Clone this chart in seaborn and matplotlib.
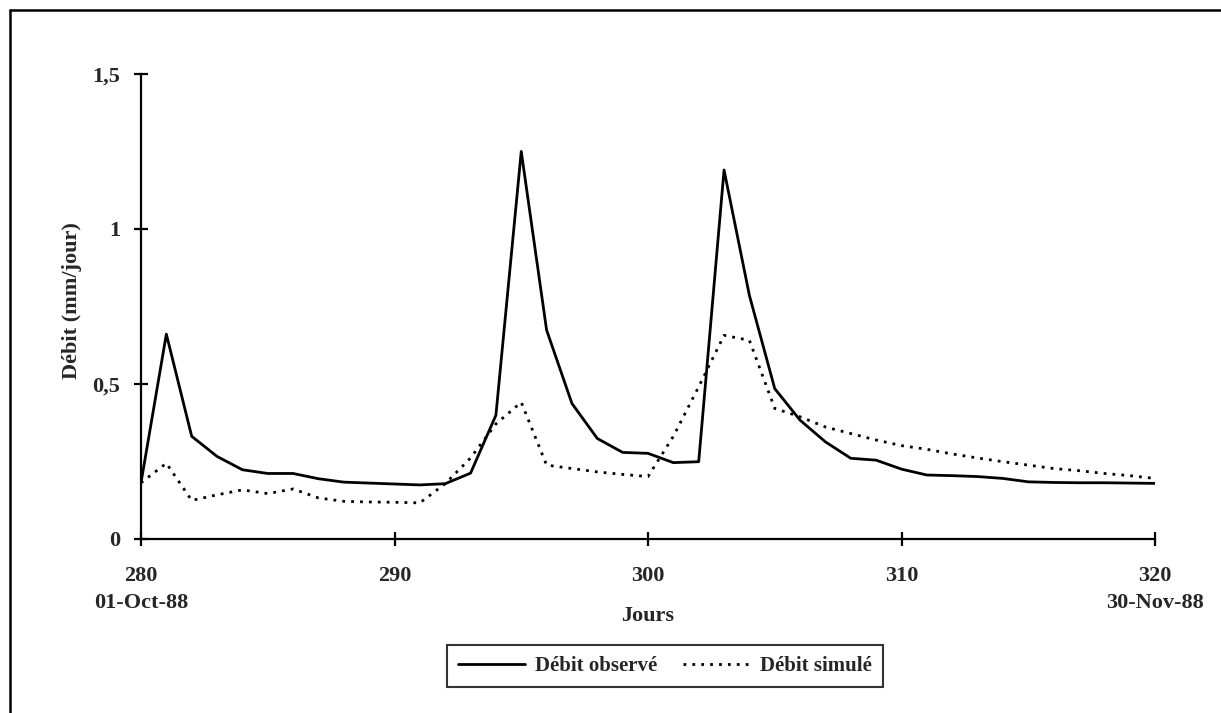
import numpy as np
import pandas as pd
import matplotlib
matplotlib.use("Agg")
import matplotlib.pyplot as plt
from matplotlib.lines import Line2D
import seaborn as sns

days = list(range(280, 321))
observed = [0.18, 0.66, 0.33, 0.265, 0.222, 0.21, 0.21, 0.193, 0.182, 0.179,
            0.176, 0.173, 0.177, 0.211, 0.398, 1.25, 0.673, 0.436, 0.323, 0.278,
            0.275, 0.245, 0.248, 1.19, 0.785, 0.484, 0.382, 0.312, 0.259, 0.253,
            0.224, 0.205, 0.203, 0.2, 0.194, 0.183, 0.181, 0.18, 0.18, 0.179, 0.178]
simulated = [0.18, 0.243, 0.123, 0.141, 0.157, 0.145, 0.16, 0.131, 0.12, 0.118,
             0.117, 0.115, 0.177, 0.26, 0.37, 0.44, 0.237, 0.226, 0.215, 0.207,
             0.2, 0.33, 0.49, 0.656, 0.64, 0.42, 0.393, 0.36, 0.339, 0.318,
             0.3, 0.288, 0.273, 0.26, 0.248, 0.237, 0.226, 0.219, 0.21, 0.203, 0.194]
series_names = ["Débit observé", "Débit simulé"]
x_ticks = [280, 290, 300, 310, 320]
x_tick_labels = ["280\n01-Oct-88", "290", "300", "310", "320\n30-Nov-88"]
y_ticks = [0, 0.5, 1, 1.5]
y_tick_labels = ["0", "0,5", "1", "1,5"]

sns.set_style("white")
plt.rcParams["font.family"] = ["Liberation Serif", "DejaVu Serif"]
plt.rcParams["font.weight"] = "bold"

df = pd.DataFrame({
    "Jours": days * 2,
    "Débit": observed + simulated,
    "Série": [series_names[0]] * len(days) + [series_names[1]] * len(days),
})

fig = plt.figure(figsize=(12.21, 7.13), dpi=100)
ax = fig.add_axes([141 / 1221, 1 - 538.5 / 713, 1014 / 1221, 464.5 / 713])

sns.lineplot(data=df[df["Série"] == series_names[0]], x="Jours", y="Débit",
             color="black", linewidth=2.0, ax=ax, legend=False)
sns.lineplot(data=df[df["Série"] == series_names[1]], x="Jours", y="Débit",
             color="black", linewidth=2.0, linestyle=(0, (1, 2.2)), ax=ax, legend=False)

ax.set_xlim(280, 320)
ax.set_ylim(0, 1.5)
for s in ["top", "right"]:
    ax.spines[s].set_visible(False)
for s in ["left", "bottom"]:
    ax.spines[s].set_linewidth(1.6)
    ax.spines[s].set_color("black")

ax.set_xticks(x_ticks)
ax.set_xticklabels(x_tick_labels, fontsize=16, fontweight="bold", linespacing=1.45)
ax.set_yticks(y_ticks)
ax.set_yticklabels(y_tick_labels, fontsize=16, fontweight="bold")
ax.tick_params(axis="both", direction="inout", length=10, width=1.6, color="black",
               bottom=True, left=True)
ax.tick_params(axis="x", pad=15)
ax.tick_params(axis="y", pad=10)

ax.set_xlabel("Jours", fontsize=16, fontweight="bold")
ax.xaxis.set_label_coords(0.5, -0.145)
ax.set_ylabel("Débit (mm/jour)", fontsize=16, fontweight="bold")
ax.yaxis.set_label_coords(-0.058, 0.513)

handles = [Line2D([0], [0], color="black", lw=2.0),
           Line2D([0], [0], color="black", lw=2.0, linestyle=(0, (1, 2.2)))]
leg = fig.legend(handles, series_names, loc="center", ncol=2,
                 bbox_to_anchor=(665 / 1221, 1 - 666 / 713),
                 prop={"family": "Liberation Serif", "weight": "bold", "size": 15},
                 frameon=True, fancybox=False, edgecolor="black",
                 handlelength=3.2, columnspacing=1.2, handletextpad=0.5,
                 borderpad=0.55, borderaxespad=0.0)
leg.get_frame().set_linewidth(1.5)

# outer frame (top and left lines visible)
fig.add_artist(Line2D([10 / 1221, 1.0], [1 - 10 / 713, 1 - 10 / 713],
                      transform=fig.transFigure, color="black", lw=1.8))
fig.add_artist(Line2D([10 / 1221, 10 / 1221], [0.0, 1 - 10 / 713],
                      transform=fig.transFigure, color="black", lw=1.8))

fig.savefig("out.png", dpi=100, facecolor="white")
